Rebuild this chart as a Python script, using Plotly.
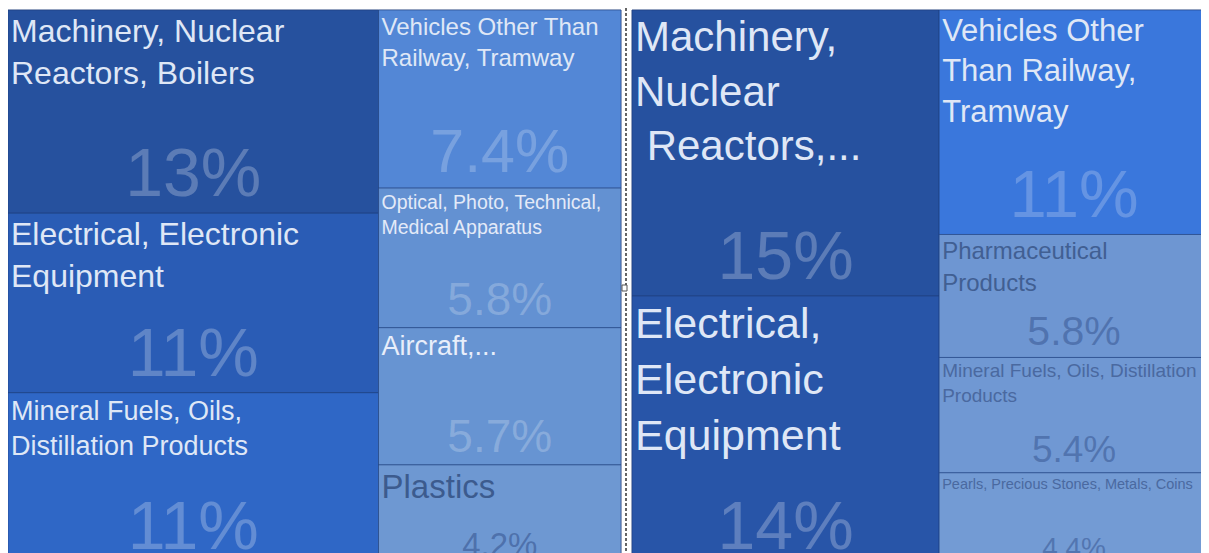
import plotly.graph_objects as go

# The page body adds an 8px margin; the figure is a bit taller than the window
# so the bottom row of tiles is cropped, as in the reference screenshot.
W, H = 1201, 558

# ---------------- data ----------------
# Left treemap (two columns)
left_col1_names = ["Machinery, Nuclear Reactors, Boilers",
                   "Electrical, Electronic Equipment",
                   "Mineral Fuels, Oils, Distillation Products"]
left_col1_values = [12.9, 11.4, 11.0]
left_col1_text = ["Machinery, Nuclear<br>Reactors, Boilers",
                  "Electrical, Electronic<br>Equipment",
                  "Mineral Fuels, Oils,<br>Distillation Products"]

left_col2_names = ["Vehicles Other Than Railway, Tramway",
                   "Optical, Photo, Technical, Medical Apparatus",
                   "Aircraft, Spacecraft",
                   "Plastics"]
left_col2_values = [7.4, 5.8, 5.7, 4.2]
left_col2_text = ["Vehicles Other Than<br>Railway, Tramway",
                  "Optical, Photo, Technical,<br>Medical Apparatus",
                  "Aircraft,...",
                  "Plastics"]

# Right treemap (two columns)
right_col1_names = ["Machinery, Nuclear Reactors, Boilers",
                    "Electrical, Electronic Equipment"]
right_col1_values = [15.3, 14.44]
right_col1_text = ["Machinery,<br>Nuclear<br>\u00a0Reactors,...",
                   "Electrical,<br>Electronic<br>Equipment"]

right_col2_names = ["Vehicles Other Than Railway, Tramway",
                    "Pharmaceutical Products",
                    "Mineral Fuels, Oils, Distillation Products",
                    "Pearls, Precious Stones, Metals, Coins"]
right_col2_values = [10.55, 5.78, 5.42, 4.38]
right_col2_text = ["Vehicles Other<br>Than Railway,<br>Tramway",
                   "Pharmaceutical<br>Products",
                   "Mineral Fuels, Oils, Distillation<br>Products",
                   "Pearls, Precious Stones, Metals, Coins"]

# ---------------- styles ----------------
left_colors = ["#26519e", "#2a5cb5", "#2f67c6", "#5387d6", "#6391d2", "#6794d2", "#6e98d2"]
left_label_colors = ["#dfe7f6", "#dfe7f6", "#dfe7f6", "#dfe7f6", "#e3eaf8", "#e8eefa", "#3c5b8e"]
left_label_sizes = [32, 32, 27, 24, 19.5, 27, 33]
left_pct_colors = ["rgba(255,255,255,0.25)"] * 3 + ["rgba(255,255,255,0.22)"] * 3 + ["rgba(50,80,140,0.55)"]
left_pct_sizes = [68, 68, 68, 61, 46, 46, 33]

right_colors = ["#26519f", "#2855a8", "#3a77dc", "#6e96d2", "#7098d3", "#739bd4"]
right_label_colors = ["#dfe7f6", "#dfe7f6", "#dfe7f6", "#415f93", "#4a69a0", "#4a69a0"]
right_label_sizes = [42, 43, 31, 24, 19, 14.5]
right_pct_colors = ["rgba(255,255,255,0.25)"] * 2 + ["rgba(255,255,255,0.22)"] + ["rgba(50,80,140,0.5)"] * 3
right_pct_sizes = [68, 68, 67, 41, 37, 28]

FONT = "Liberation Sans, Arial, sans-serif"


def panel(prefix, c1n, c1v, c1t, c2n, c2v, c2t, colors, lcol, lsz, pcol, psz, domx):
    ids = [prefix + "c1", prefix + "c2"]
    parents = ["", ""]
    labels = ["", ""]
    values = [0, 0]
    texts = ["", ""]
    pcts = ["", ""]
    for col, names, vals, tx in (("c1", c1n, c1v, c1t), ("c2", c2n, c2v, c2t)):
        for i, (n, v, t) in enumerate(zip(names, vals, tx)):
            ids.append(f"{prefix}{col}_{i}")
            parents.append(prefix + col)
            labels.append(n)
            values.append(v)
            texts.append(t)
            pcts.append(f"{v:.2g}%")
    mcolors = [colors[0], colors[len(c1n)]] + colors
    common = dict(ids=ids, parents=parents, labels=labels, values=values,
                  branchvalues="remainder", sort=False,
                  tiling=dict(packing="slice-dice", pad=0),
                  pathbar=dict(visible=False),
                  domain=dict(x=domx, y=[0, (H - 2) / H]),
                  hoverinfo="skip")
    t1 = go.Treemap(**common,
                    text=texts, texttemplate="%{text}", textposition="top left",
                    textfont=dict(family=FONT, size=[10, 10] + lsz,
                                  color=["rgba(0,0,0,0)"] * 2 + lcol),
                    marker=dict(colors=mcolors,
                                line=dict(color="rgba(30,60,120,0.55)", width=1),
                                pad=dict(t=0, l=0, r=0, b=0)))
    t2 = go.Treemap(**common,
                    text=pcts, texttemplate="%{text}", textposition="bottom center",
                    textfont=dict(family=FONT, size=[10, 10] + psz,
                                  color=["rgba(0,0,0,0)"] * 2 + pcol),
                    marker=dict(colors=["rgba(0,0,0,0)"] * len(ids),
                                line=dict(width=0),
                                pad=dict(t=0, l=0, r=0, b=0)))
    return [t1, t2]


fig = go.Figure()
for tr in panel("L", left_col1_names, left_col1_values, left_col1_text,
                left_col2_names, left_col2_values, left_col2_text,
                left_colors, left_label_colors, left_label_sizes,
                left_pct_colors, left_pct_sizes, [0.0, 613 / W]):
    fig.add_trace(tr)
for tr in panel("R", right_col1_names, right_col1_values, right_col1_text,
                right_col2_names, right_col2_values, right_col2_text,
                right_colors, right_label_colors, right_label_sizes,
                right_pct_colors, right_pct_sizes, [624 / W, 1.0]):
    fig.add_trace(tr)

fig.update_layout(
    width=W, height=H,
    margin=dict(l=0, r=0, t=0, b=0),
    paper_bgcolor="white",
    showlegend=False,
    shapes=[
        dict(type="line", xref="paper", yref="paper",
             x0=618 / W, x1=618 / W, y0=0, y1=1,
             line=dict(color="#333333", width=1.5, dash="3px,2px")),
        dict(type="rect", xref="paper", yref="paper",
             x0=614 / W, x1=619 / W, y0=1 - 283 / H, y1=1 - 277 / H,
             fillcolor="white", line=dict(color="#555555", width=1)),
    ],
)

fig.write_html("out.html")
